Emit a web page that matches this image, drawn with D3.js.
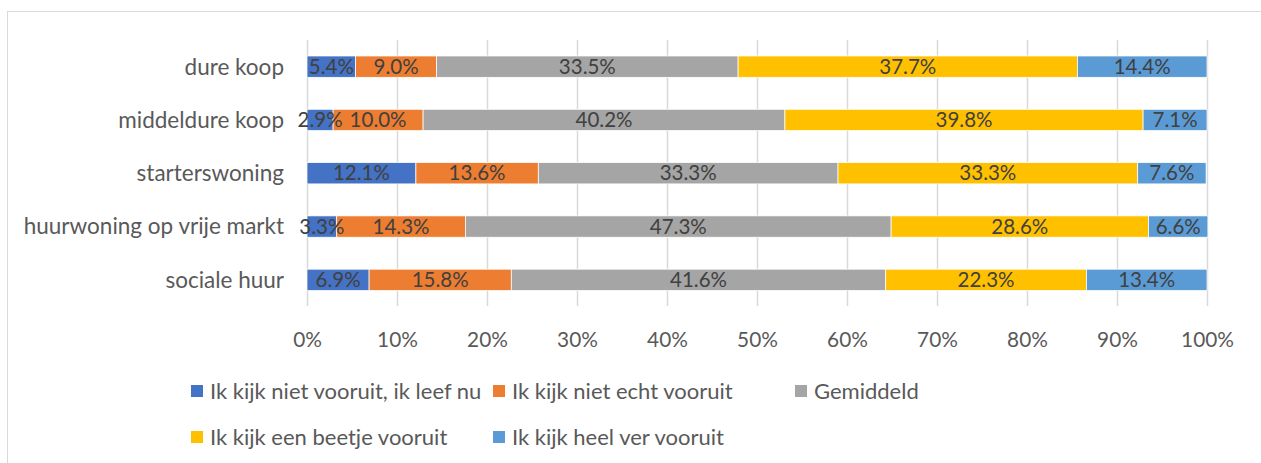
<!DOCTYPE html>
<html>
<head>
<meta charset="utf-8">
<script src="https://cdn.jsdelivr.net/npm/d3@7"></script>
<style>
  html, body { margin: 0; padding: 0; background: #fff; }
  svg { display: block; }
  text { font-family: Lato, "Noto Sans", sans-serif; }
</style>
</head>
<body>
<script>
// ---- data ----
const categories = ["dure koop", "middeldure koop", "starterswoning", "huurwoning op vrije markt", "sociale huur"];
const seriesNames = ["Ik kijk niet vooruit, ik leef nu", "Ik kijk niet echt vooruit", "Gemiddeld", "Ik kijk een beetje vooruit", "Ik kijk heel ver vooruit"];
const notForward = [5.4, 2.9, 12.1, 3.3, 6.9];
const notReally = [9.0, 10.0, 13.6, 14.3, 15.8];
const average = [33.5, 40.2, 33.3, 47.3, 41.6];
const bitForward = [37.7, 39.8, 33.3, 28.6, 22.3];
const farForward = [14.4, 7.1, 7.6, 6.6, 13.4];
const tickValues = [0, 10, 20, 30, 40, 50, 60, 70, 80, 90, 100];
const colors = ["#4472C4", "#ED7D31", "#A5A5A5", "#FFC000", "#5B9BD5"];

const seriesValues = [notForward, notReally, average, bitForward, farForward];
const rows = categories.map((c, i) => {
  const r = { cat: c };
  seriesNames.forEach((s, j) => r[s] = seriesValues[j][i]);
  return r;
});

const W = 1261, H = 463;
const svg = d3.select("body").append("svg").attr("width", W).attr("height", H);

// chart border
svg.append("rect").attr("x", 7.5).attr("y", 11.5).attr("width", W + 10).attr("height", H + 10)
  .attr("fill", "none").attr("stroke", "#d9d9d9").attr("stroke-width", 1);

const x = d3.scaleLinear().domain([0, 100]).range([307, 1207]);
const y = d3.scaleBand().domain(categories).range([40, 306.5]).paddingInner(0.6).paddingOuter(0.3);

// gridlines
svg.append("g").selectAll("line").data(tickValues).join("line")
  .attr("x1", d => Math.round(x(d)) + 0.5).attr("x2", d => Math.round(x(d)) + 0.5)
  .attr("y1", 40).attr("y2", 306)
  .attr("stroke", "#d9d9d9").attr("stroke-width", 1.5);

// x axis labels
const xAxis = d3.axisBottom(x).tickValues(tickValues).tickFormat(d => d + "%").tickSize(0).tickPadding(0);
const gx = svg.append("g").attr("transform", "translate(0,340)").call(xAxis);
gx.select(".domain").remove();
gx.selectAll("text").attr("font-size", 20.8).attr("fill", "#595959").attr("dy", "0.35em").attr("y", 0)
  .style("font-family", "Lato, sans-serif");

// y axis labels
const yAxis = d3.axisLeft(y).tickSize(0).tickPadding(0);
const gy = svg.append("g").attr("transform", "translate(284,0)").call(yAxis);
gy.select(".domain").remove();
gy.selectAll("text").attr("font-size", 22.5).attr("fill", "#595959").attr("dy", "0.35em").attr("x", 0)
  .style("font-family", "Lato, sans-serif");

// stacks
const stack = d3.stack().keys(seriesNames);
const stacked = stack(rows);

const layers = svg.append("g").selectAll("g").data(stacked).join("g")
  .attr("fill", (d, i) => colors[i]);

layers.selectAll("rect").data(d => d).join("rect")
  .attr("x", d => x(d[0]))
  .attr("width", d => x(d[1]) - x(d[0]))
  .attr("y", d => y(d.data.cat))
  .attr("height", y.bandwidth())
  .attr("stroke", "#fff").attr("stroke-width", 0.75);

// data labels
const lbl = svg.append("g");
stacked.forEach((layer, i) => {
  layer.forEach(d => {
    lbl.append("text")
      .attr("x", (x(d[0]) + x(d[1])) / 2)
      .attr("y", y(d.data.cat) + y.bandwidth() / 2)
      .attr("dy", "0.35em")
      .attr("text-anchor", "middle")
      .attr("font-size", 20.5)
      .attr("fill", "#404040")
      .text((d[1] - d[0]).toFixed(1) + "%");
  });
});

// legend
const legendItems = [
  { name: seriesNames[0], c: colors[0], lx: 191, ly: 391 },
  { name: seriesNames[1], c: colors[1], lx: 493, ly: 391 },
  { name: seriesNames[2], c: colors[2], lx: 795, ly: 391 },
  { name: seriesNames[3], c: colors[3], lx: 191, ly: 437 },
  { name: seriesNames[4], c: colors[4], lx: 493, ly: 437 }
];
const lg = svg.append("g").selectAll("g").data(legendItems).join("g")
  .attr("transform", d => `translate(${d.lx},${d.ly})`);
lg.append("rect").attr("x", 0).attr("y", -6).attr("width", 12).attr("height", 12).attr("fill", d => d.c);
lg.append("text").attr("x", 19).attr("dy", "0.35em").attr("font-size", 22).attr("fill", "#595959").text(d => d.name);
</script>
</body>
</html>
